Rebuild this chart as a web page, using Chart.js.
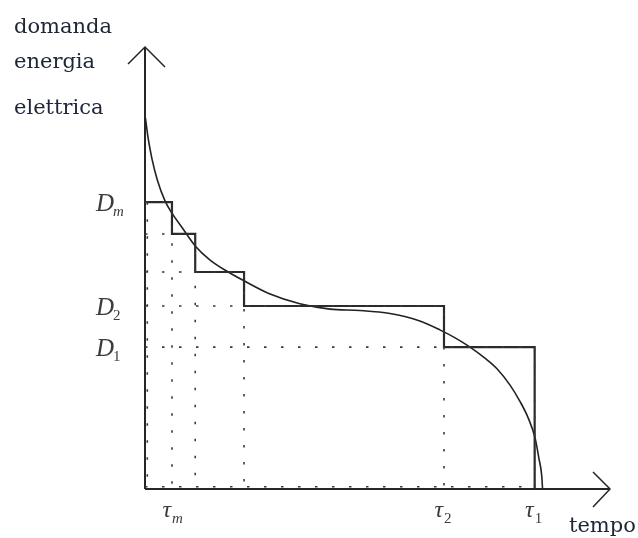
<!DOCTYPE html>
<html>
<head>
<meta charset="utf-8">
<script src="https://cdn.jsdelivr.net/npm/chart.js@4.4.1/dist/chart.umd.min.js"></script>
<style>
    html, body { margin: 0; padding: 0; background: #fff; }
    #box { width: 638px; height: 538px; position: relative; }
</style>
</head>
<body>
<div id="box"><canvas id="curva-durata"></canvas></div>
<script>
// tempi dei gradini (tau_m, ..., tau_2, tau_1) e livelli di domanda (D_m, ..., D_2, D_1)
const tempi = [5.8, 10.8, 21.3, 64.3, 83.8];
const livelli = [64.9, 57.7, 49.1, 41.4, 32.1];
const pediciD = ['m', '', '', '2', '1'];
const pediciTau = ['m', '', '', '2', '1'];

// curva di durata del carico
const curvaT = [0.1, 0.7, 1.5, 2.6, 4.3, 5.8, 8.0, 10.8, 14.0, 17.9, 21.3, 26.9, 33.3, 39.8, 46.2, 52.7, 59.1, 63.4, 66.7, 69.9, 73.1, 75.7, 78.5, 80.6, 82.4, 83.9, 84.7, 85.3, 85.5];
const curvaD = [83.9, 79.2, 74.7, 70.1, 65.2, 62.4, 59.1, 55.0, 51.8, 49.1, 47.1, 44.1, 41.9, 40.7, 40.4, 39.7, 38.0, 36.0, 34.2, 32.1, 29.6, 27.2, 23.5, 19.9, 16.1, 11.5, 7.0, 3.2, 0];

const titoloY = ['domanda', 'energia', 'elettrica'];
const titoloX = 'tempo';

const curva = curvaT.map((t, i) => ({ x: t, y: curvaD[i] }));

const gradini = [{ x: 0, y: livelli[0] }];
tempi.forEach((t, i) => gradini.push({ x: t, y: i + 1 < livelli.length ? livelli[i + 1] : 0 }));

const punteggiate = [];
tempi.forEach((t, i) => {
    punteggiate.push({ x: 0, y: livelli[i] }, { x: t, y: livelli[i] }, { x: t, y: 0 }, { x: t, y: null });
});
// puntini lungo gli assi
punteggiate.push({ x: 0.5, y: livelli[0] }, { x: 0.5, y: 0 }, { x: 0.5, y: null });
punteggiate.push({ x: 0, y: 0.5 }, { x: tempi[tempi.length - 1], y: 0.5 });

const assiPlugin = {
    id: 'assi',
    beforeDatasetsDraw(chart) {
        const { ctx, chartArea: a } = chart;
        ctx.save();
        ctx.strokeStyle = '#262626';
        ctx.lineWidth = 2;
        ctx.beginPath();
        ctx.moveTo(a.left, a.bottom);
        ctx.lineTo(a.left, a.top);
        ctx.moveTo(a.left, a.bottom);
        ctx.lineTo(a.right, a.bottom);
        ctx.stroke();
        ctx.lineWidth = 1.5;
        ctx.beginPath();
        ctx.moveTo(a.left - 17, a.top + 17);
        ctx.lineTo(a.left, a.top);
        ctx.lineTo(a.left + 20, a.top + 20);
        ctx.moveTo(a.right - 17, a.bottom - 17);
        ctx.lineTo(a.right, a.bottom);
        ctx.lineTo(a.right - 17, a.bottom + 18);
        ctx.stroke();
        ctx.restore();
    },
    afterDraw(chart) {
        const { ctx } = chart;
        const sx = chart.scales.x, sy = chart.scales.y;
        ctx.save();
        // titoli assi
        ctx.fillStyle = '#1d2536';
        ctx.font = '21px "DejaVu Serif"';
        ctx.textBaseline = 'alphabetic';
        ctx.textAlign = 'left';
        const yb = [33, 68, 114];
        titoloY.forEach((s, i) => ctx.fillText(s, 14, yb[i]));
        ctx.fillText(titoloX, 569, 532);

        // etichette D
        ctx.fillStyle = '#3c3c3c';
        livelli.forEach((d, i) => {
            if (!pediciD[i]) return;
            const y = sy.getPixelForValue(d) + 9;
            ctx.font = 'italic 25px "Liberation Serif"';
            ctx.textAlign = 'right';
            ctx.fillText('D', 114, y);
            ctx.textAlign = 'left';
            ctx.font = (pediciD[i] === 'm' ? 'italic ' : '') + '15px "Liberation Serif"';
            ctx.fillText(pediciD[i], 113, y + 5);
        });
        // etichette tau
        tempi.forEach((t, i) => {
            if (!pediciTau[i]) return;
            const x = sx.getPixelForValue(t);
            ctx.font = 'italic 24px "Liberation Serif"';
            ctx.textAlign = 'right';
            ctx.fillText('\u03C4', x - 1, 517);
            ctx.textAlign = 'left';
            ctx.font = (pediciTau[i] === 'm' ? 'italic ' : '') + '15px "Liberation Serif"';
            ctx.fillText(pediciTau[i], x, 523);
        });
        ctx.restore();
    }
};

new Chart(document.getElementById('curva-durata').getContext('2d'), {
    type: 'line',
    data: {
        datasets: [
            { data: punteggiate, borderColor: '#3a3a3a', borderWidth: 1.6, borderDash: [2.5, 14.5], pointRadius: 0, spanGaps: false, fill: false },
            { data: gradini, borderColor: '#2b2b2b', borderWidth: 2.2, stepped: 'before', pointRadius: 0, fill: false },
            { data: curva, borderColor: '#222', borderWidth: 1.6, cubicInterpolationMode: 'monotone', pointRadius: 0, fill: false }
        ]
    },
    options: {
        responsive: true,
        maintainAspectRatio: false,
        animation: false,
        layout: { padding: { left: 145, right: 28, top: 47, bottom: 49 } },
        scales: {
            x: { type: 'linear', min: 0, max: 100, display: false },
            y: { type: 'linear', min: 0, max: 100, display: false }
        },
        plugins: { legend: { display: false }, tooltip: { enabled: false } }
    },
    plugins: [assiPlugin]
});
</script>
</body>
</html>
